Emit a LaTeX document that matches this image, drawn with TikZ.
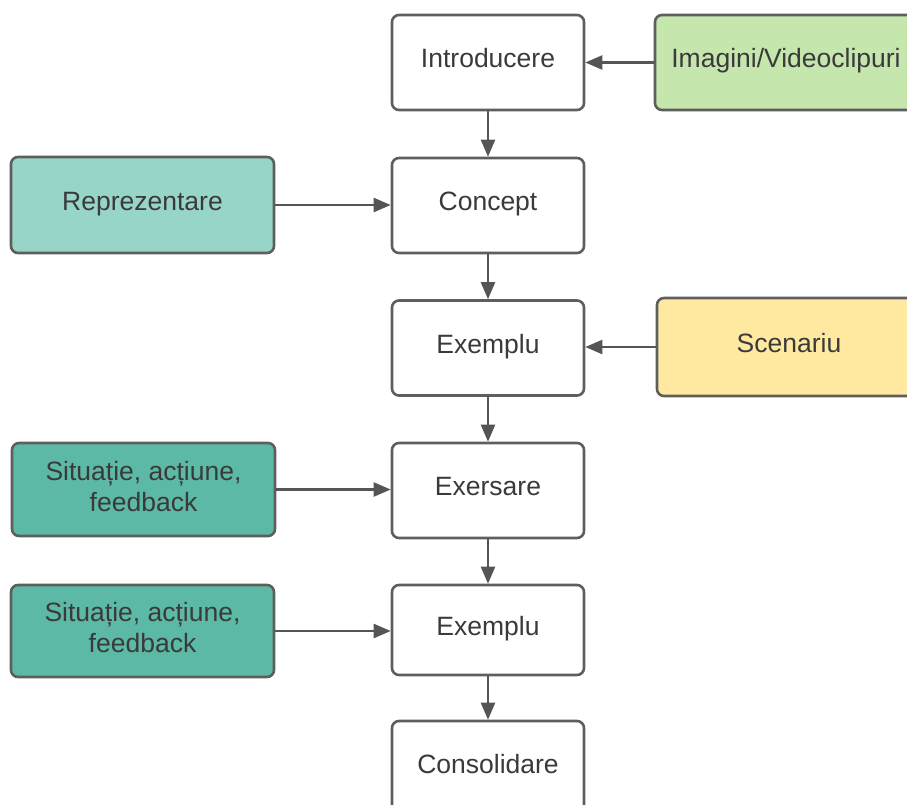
\documentclass[tikz,border=0pt]{standalone}
\usepackage{fontspec}
\setmainfont{Liberation Sans}
\usetikzlibrary{arrows.meta}
\definecolor{bordc}{HTML}{5E5E5E}
\definecolor{txtc}{HTML}{3A3A3A}
\definecolor{arrc}{HTML}{555555}
\definecolor{fillgreen}{HTML}{C5E6AD}
\definecolor{fillmint}{HTML}{98D5C9}
\definecolor{fillteal}{HTML}{5BB9A5}
\definecolor{fillyellow}{HTML}{FFE8A0}
\newcommand{\twolines}[2]{\raisebox{4pt}{\begin{tabular}{@{}c@{}}#1\\#2\end{tabular}}}
\tikzset{
  box/.style={draw=bordc, line width=2.6pt, rounded corners=7pt, fill=white,
    inner sep=0pt, text=txtc, align=center,
    font=\fontsize{26.5}{31}\selectfont},
  oneline/.style={text height=19pt, text depth=9pt},
  midbox/.style={box, oneline, minimum width=192pt, minimum height=95pt},
  sidebox/.style={box, minimum width=263pt},
  flow/.style={draw=arrc, line width=2.3pt, -{Triangle[length=17pt,width=14pt]}}
}
\begin{document}
\begin{tikzpicture}[x=1pt,y=-1pt]
  \useasboundingbox (0,0) rectangle (907,804);
  \clip (0,0) rectangle (907,804);
  % main column
  \node[midbox] (intro)  at (488,62.5)  {Introducere};
  \node[midbox] (concept) at (488,205.5) {Concept};
  \node[midbox] (ex1)    at (488,348)   {Exemplu};
  \node[midbox] (exers)  at (488,490.5) {Exersare};
  \node[midbox, minimum height=90pt] (ex2) at (488,630) {Exemplu};
  \node[midbox] (consol) at (488,768.5) {Consolidare};
  % side inputs
  \node[sidebox, oneline, fill=fillgreen, minimum width=262pt, minimum height=95pt] (img) at (786,62.5) {Imagini/Videoclipuri};
  \node[sidebox, oneline, fill=fillmint, minimum height=96pt] (repr) at (142.5,205) {Reprezentare};
  \node[sidebox, oneline, fill=fillyellow, minimum width=264pt, minimum height=98pt] (scen) at (789,347) {Scenariu};
  \node[sidebox, fill=fillteal, minimum height=93pt] (sit1) at (143.5,489.5) {\twolines{Situație, acțiune,}{feedback}};
  \node[sidebox, fill=fillteal, minimum height=92pt] (sit2) at (142.5,631) {\twolines{Situație, acțiune,}{feedback}};
  % connectors
  \draw[flow] (img.west) -- (intro.east);
  \draw[flow] (intro.south) -- (concept.north);
  \draw[flow] (repr.east) -- (concept.west |- repr.east);
  \draw[flow] (concept.south) -- (ex1.north);
  \draw[flow] (scen.west) -- (ex1.east |- scen.west);
  \draw[flow] (ex1.south) -- (exers.north);
  \draw[flow] (sit1.east) -- (exers.west |- sit1.east);
  \draw[flow] (exers.south) -- (ex2.north);
  \draw[flow] (sit2.east) -- (ex2.west |- sit2.east);
  \draw[flow] (ex2.south) -- (consol.north);
\end{tikzpicture}
\end{document}
